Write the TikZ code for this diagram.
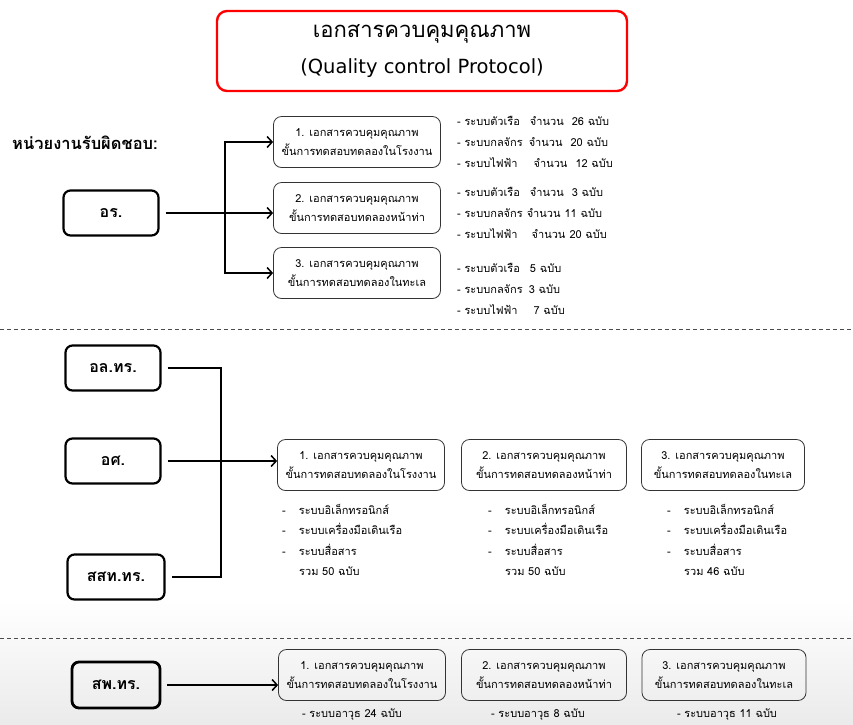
\documentclass[tikz,border=0pt]{standalone}
\usepackage{fontspec}
\setmainfont[Script=Thai]{Loma}
\newfontfamily\latinfont{DejaVu Sans}
\usetikzlibrary{positioning,arrows.meta}

\begin{document}
\begin{tikzpicture}[x=1pt,y=-1pt,
	unit/.style={draw,line width=2.2pt,rounded corners=7pt,minimum width=95pt,minimum height=45pt,font=\bfseries\fontsize{16}{18}\selectfont},
	doc/.style={draw=black!80,line width=0.8pt,rounded corners=8pt,minimum width=167pt,minimum height=51pt,align=center,inner sep=2pt,font=\fontsize{11}{19}\selectfont},
	item/.style={anchor=west,inner sep=0pt,font=\fontsize{11}{13}\selectfont},
	link/.style={line width=1.5pt},
	arr/.style={link,-{Straight Barb[length=5pt,width=11pt]}}]
		\useasboundingbox (0,0) rectangle (853,724);
		\shade[top color=white,bottom color=black!8] (0,600) rectangle (853,724);
		\node [draw=red,line width=2.4pt,rounded corners=10pt,minimum width=410pt,minimum height=80pt,align=center,font=\fontsize{22}{36}\selectfont] (title) at (422,51) {เอกสารควบคุมคุณภาพ\\{\latinfont\fontsize{19.5}{36}\selectfont (Quality control Protocol)}};
		\node [anchor=west,inner sep=0pt,font=\bfseries\fontsize{16.5}{18}\selectfont] (resp) at (12,143) {หน่วยงานรับผิดชอบ:};
		% top section
		\node [unit] (or) at (111,213) {อร.};
		\node [doc] (a1) at (357,142) {1. เอกสารควบคุมคุณภาพ\\ขั้นการทดสอบทดลองในโรงงาน};
		\node [doc] (a2) at (357,208) {2. เอกสารควบคุมคุณภาพ\\ขั้นการทดสอบทดลองหน้าท่า};
		\node [doc] (a3) at (357,273) {3. เอกสารควบคุมคุณภาพ\\ขั้นการทดสอบทดลองในทะเล};
		\coordinate (ja) at (225,213);
		\draw [arr,shorten <=6pt] (or.east) -- (or.east -| a2.west);
		\draw [arr] (ja) |- (a1.west);
		\draw [arr] (ja) |- (a3.west);
		\node [item] (a1i1) at (457,121) {- ระบบตัวเรือ\hspace{10pt}จำนวน\hspace{8pt}26 ฉบับ};
		\node [item] (a1i2) at (457,142) {- ระบบกลจักร\hspace{6pt}จำนวน\hspace{8pt}20 ฉบับ};
		\node [item] (a1i3) at (457,163) {- ระบบไฟฟ้า\hspace{16pt}จำนวน\hspace{8pt}12 ฉบับ};
		\node [item] (a2i1) at (457,192) {- ระบบตัวเรือ\hspace{10pt}จำนวน\hspace{8pt}3 ฉบับ};
		\node [item] (a2i2) at (457,213) {- ระบบกลจักร\hspace{4pt}จำนวน\hspace{4pt}11 ฉบับ};
		\node [item] (a2i3) at (457,234) {- ระบบไฟฟ้า\hspace{14pt}จำนวน\hspace{4pt}20 ฉบับ};
		\node [item] (a3i1) at (457,268) {- ระบบตัวเรือ\hspace{10pt}5 ฉบับ};
		\node [item] (a3i2) at (457,289) {- ระบบกลจักร\hspace{6pt}3 ฉบับ};
		\node [item] (a3i3) at (457,310) {- ระบบไฟฟ้า\hspace{16pt}7 ฉบับ};
		\draw [dashed,dash pattern=on 4pt off 3pt,black!70,line width=0.8pt] (0,329) -- (853,329);
		% middle section
		\node [unit] (ol) at (113,368) {อล.ทร.};
		\node [unit] (os) at (113,461) {อศ.};
		\node [unit,minimum width=97pt] (ss) at (116,577) {สสท.ทร.};
		\node [doc] (b1) at (361,465) {1. เอกสารควบคุมคุณภาพ\\ขั้นการทดสอบทดลองในโรงงาน};
		\node [doc,minimum width=165pt] (b2) at (544,465) {2. เอกสารควบคุมคุณภาพ\\ขั้นการทดสอบทดลองหน้าท่า};
		\node [doc,minimum width=163pt] (b3) at (723,465) {3. เอกสารควบคุมคุณภาพ\\ขั้นการทดสอบทดลองในทะเล};
		\coordinate (jb) at (221,461);
		\draw [link,shorten <=6pt,shorten >=6pt] (ol.east) -| (jb) |- (ss.east);
		\draw [arr,shorten <=6pt] (os.east) -- (os.east -| b1.west);
		\foreach \n/\x/\t in {1/282/50,2/488/50,3/667/46} {
			\node [item] (b\n i1) at (\x,509) {-\hspace{13pt}ระบบอิเล็กทรอนิกส์};
			\node [item] (b\n i2) at (\x,529) {-\hspace{13pt}ระบบเครื่องมือเดินเรือ};
			\node [item] (b\n i3) at (\x,550) {-\hspace{13pt}ระบบสื่อสาร};
			\node [item,xshift=17pt] (b\n s) at (\x,571) {รวม \t\ ฉบับ};
		}
		\draw [dashed,dash pattern=on 4pt off 3pt,black!70,line width=0.8pt] (0,638) -- (853,638);
		% bottom section
		\node [unit,line width=2.8pt,minimum width=88pt,minimum height=46pt] (sp) at (116,685) {สพ.ทร.};
		\node [doc] (c1) at (362,675) {1. เอกสารควบคุมคุณภาพ\\ขั้นการทดสอบทดลองในโรงงาน};
		\node [doc,minimum width=165pt] (c2) at (544,675) {2. เอกสารควบคุมคุณภาพ\\ขั้นการทดสอบทดลองหน้าท่า};
		\node [doc,minimum width=164pt] (c3) at (724,675) {3. เอกสารควบคุมคุณภาพ\\ขั้นการทดสอบทดลองในทะเล};
		\draw [arr,shorten <=6pt] (sp.east) -- (sp.east -| c1.west);
		\node [item,anchor=center] (c1i) at (352,715) {- ระบบอาวุธ 24 ฉบับ};
		\node [item,anchor=center] (c2i) at (538,715) {- ระบบอาวุธ 8 ฉบับ};
		\node [item,anchor=center] (c3i) at (727,715) {- ระบบอาวุธ 11 ฉบับ};
	\end{tikzpicture}
\end{document}
